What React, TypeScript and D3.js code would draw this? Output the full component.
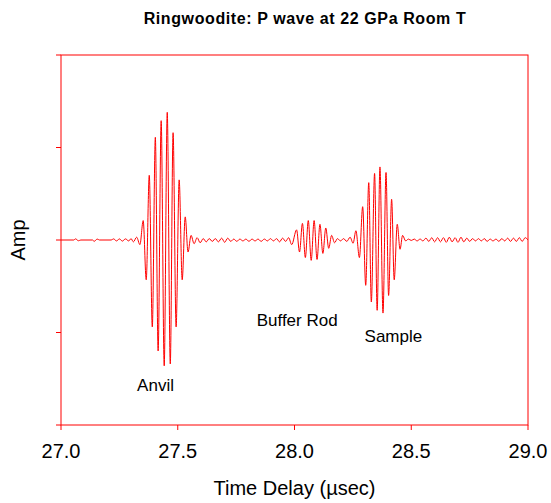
import * as d3 from 'd3';

// Waveform extrema: [time (µsec), amplitude]
const preAnvil: [number, number][] = [
  [27.0, 0], [27.055, 0], [27.062, 0.012], [27.075, -0.008], [27.085, 0],
  [27.135, 0], [27.142, -0.015], [27.155, 0.01], [27.165, 0], [27.215, 0],
  [27.225, 0.012], [27.238, -0.01], [27.25, 0.012], [27.263, -0.012],
  [27.276, 0.012], [27.29, -0.01], [27.3, 0.015], [27.31, -0.02],
  [27.324, 0.03], [27.338, -0.05],
];

const anvil: [number, number][] = [
  [27.352, 0.21], [27.365, -0.43], [27.378, 0.7], [27.391, -0.94],
  [27.404, 1.11], [27.416, -1.2], [27.429, 1.29], [27.442, -1.36],
  [27.455, 1.38], [27.468, -1.34], [27.48, 1.16], [27.493, -0.94],
  [27.506, 0.65], [27.519, -0.43], [27.532, 0.25], [27.544, -0.13],
  [27.557, 0.05],
];

const gapAnvilBuffer: [number, number][] = [
  [27.57, -0.04], [27.583, 0.025], [27.596, -0.03], [27.609, 0.015],
  [27.622, -0.02], [27.635, 0.015], [27.648, -0.015], [27.661, 0.015],
  [27.674, -0.02], [27.688, 0.02], [27.701, -0.025], [27.714, 0.02],
  [27.727, -0.015], [27.74, 0.01], [27.753, -0.015], [27.766, 0.01],
  [27.779, -0.01], [27.792, 0.01], [27.805, -0.015], [27.818, 0.01],
  [27.831, -0.01], [27.844, 0.01], [27.857, -0.015], [27.871, 0.01],
  [27.884, -0.01], [27.897, 0.015], [27.91, -0.01], [27.923, 0.015],
  [27.936, -0.02], [27.949, 0.02], [27.962, -0.015], [27.975, 0.025],
  [27.988, -0.05],
];

const bufferRod: [number, number][] = [
  [28.009, 0.11], [28.0215, -0.13], [28.034, 0.18], [28.0465, -0.19],
  [28.059, 0.21], [28.0715, -0.22], [28.084, 0.21], [28.0965, -0.21],
  [28.109, 0.17], [28.1215, -0.145], [28.134, 0.13], [28.1465, -0.09],
  [28.159, 0.05], [28.1715, -0.03],
];

const gapBufferSample: [number, number][] = [
  [28.184, 0.015], [28.197, -0.01], [28.21, 0.015], [28.224, -0.015],
  [28.238, 0.03], [28.251, -0.035],
];

const sample: [number, number][] = [
  [28.263, 0.1], [28.278, -0.19], [28.292, 0.36], [28.305, -0.49],
  [28.318, 0.62], [28.329, -0.67], [28.343, 0.72], [28.354, -0.76],
  [28.366, 0.79], [28.379, -0.79], [28.392, 0.73], [28.403, -0.6],
  [28.416, 0.44], [28.427, -0.43], [28.44, 0.17], [28.452, -0.1],
  [28.463, 0.05],
];

const tail: [number, number][] = [
  [28.476, -0.01], [28.488, 0.01], [28.5, -0.005], [28.513, 0.01],
  [28.525, -0.01], [28.538, 0.01], [28.55, -0.01], [28.563, 0.02],
  [28.575, -0.015], [28.588, 0.025], [28.6, -0.02], [28.613, 0.025],
  [28.625, -0.02], [28.638, 0.025], [28.65, -0.025], [28.663, 0.03],
  [28.675, -0.02], [28.688, 0.025], [28.7, -0.025], [28.713, 0.03],
  [28.725, -0.02], [28.738, 0.02], [28.75, -0.015], [28.763, 0.015],
  [28.775, -0.01], [28.788, 0.015], [28.8, -0.01], [28.813, 0.015],
  [28.825, -0.015], [28.838, 0.01], [28.85, -0.01], [28.863, 0.01],
  [28.875, -0.015], [28.888, 0.015], [28.9, -0.01], [28.913, 0.02],
  [28.925, -0.015], [28.938, 0.02], [28.95, -0.015], [28.963, 0.025],
  [28.975, -0.015], [28.988, 0.025], [29.0, 0],
];

const xTicks = [27.0, 27.5, 28.0, 28.5, 29.0];
const yTicks = [-2, -1, 0, 1, 2];

const labels = [
  { text: 'Anvil', t: 27.326, a: -1.63 },
  { text: 'Buffer Rod', t: 27.838, a: -0.93 },
  { text: 'Sample', t: 28.3, a: -1.1 },
];

const width = 551;
const height = 503;
const margin = { top: 55, right: 23, bottom: 78, left: 61 };
const font = 'Arial, "Liberation Sans", sans-serif';

export default function App() {
  const innerW = width - margin.left - margin.right;
  const innerH = height - margin.top - margin.bottom;

  const x = d3.scaleLinear().domain([27, 29]).range([0, innerW]);
  const y = d3.scaleLinear().domain([-2, 2]).range([innerH, 0]);

  const wave = [...preAnvil, ...anvil, ...gapAnvilBuffer, ...bufferRod, ...gapBufferSample, ...sample, ...tail];
  const line = d3.line<[number, number]>()
    .x(d => x(d[0]))
    .y(d => y(d[1]))
    .curve(d3.curveMonotoneX);

  return (
    <svg width={width} height={height} style={{ position: 'absolute', left: 0, top: 0, background: '#fff' }}>
      <text x={305} y={24} textAnchor="middle" fontFamily={font} fontWeight="bold" fontSize={16} letterSpacing={0.6}>
        Ringwoodite: P wave at 22 GPa Room T
      </text>
      <g transform={`translate(${margin.left},${margin.top})`}>
        <defs>
          <clipPath id="plot-clip">
            <rect x={0} y={0} width={innerW} height={innerH} />
          </clipPath>
        </defs>
        <path d={line(wave) ?? ''} fill="none" stroke="#ff0000" strokeWidth={1} clipPath="url(#plot-clip)" />
        <rect x={0} y={0} width={innerW} height={innerH} fill="none" stroke="#ff0000" strokeWidth={1} />
        {xTicks.map(t => (
          <g key={t} transform={`translate(${x(t)},${innerH})`}>
            <line y1={0} y2={5} stroke="#ff0000" />
            <text y={33} textAnchor="middle" fontFamily={font} fontSize={20}>{d3.format('.1f')(t)}</text>
          </g>
        ))}
        {yTicks.map(t => (
          <line key={t} x1={-5} x2={0} y1={y(t)} y2={y(t)} stroke="#ff0000" />
        ))}
        {labels.map(l => (
          <text key={l.text} x={x(l.t)} y={y(l.a)} fontFamily={font} fontSize={17}>{l.text}</text>
        ))}
        <text x={innerW / 2} y={innerH + 70} textAnchor="middle" fontFamily={font} fontSize={20}>
          Time Delay (µsec)
        </text>
        <text transform={`translate(${-margin.left + 25},${y(0)}) rotate(-90)`} textAnchor="middle" fontFamily={font} fontSize={20}>
          Amp
        </text>
      </g>
    </svg>
  );
}
